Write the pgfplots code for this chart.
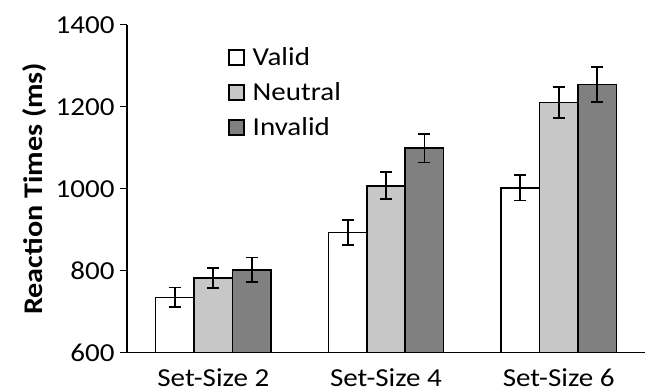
\documentclass[border=0pt]{standalone}
\usepackage{pgfplots}
\pgfplotsset{compat=1.18}
\usepackage{fontspec}
\setmainfont{Carlito}[FakeStretch=1.12]
\definecolor{lgray}{RGB}{198,199,198}
\definecolor{dgray}{RGB}{128,128,128}
\begin{document}
\begin{tikzpicture}
\path[use as bounding box] (0,0) rectangle (647bp,391bp);
\begin{axis}[
  at={(127bp,38.3bp)}, anchor=south west,
  scale only axis, width=518bp, height=328bp,
  xmin=0.5, xmax=3.5, ymin=600, ymax=1400,
  axis x line*=bottom, axis y line*=left,
  axis line style={line width=1.3bp, black},
  ybar=0pt, bar width=38.4bp,
  xtick={1,2,3}, xticklabels={Set-Size 2,Set-Size 4,Set-Size 6},
  major x tick style={draw=none},
  xticklabel style={yshift=-5bp},
  yticklabel style={xshift=-2bp},
  extra x ticks={0.5,1.5,2.5,3.5}, extra x tick labels={},
  extra x tick style={major tick length=9bp, tick align=outside, major tick style={line width=1.3bp, black, draw=black}},
  ytick={600,800,1000,1200,1400},
  y tick style={line width=1.3bp, black},
  tick align=outside, major tick length=7bp,
  ticklabel style={font=\fontsize{26}{30}\selectfont},
  /pgf/number format/assume math mode=true,
  /pgf/number format/set thousands separator={},
  ylabel={\bfseries Reaction Times (ms)},
  every axis y label/.style={at={(ticklabel cs:0.5)}, rotate=90, anchor=south, yshift=2bp, font=\fontsize{27}{30}\selectfont},
  legend cell align=left,
  legend style={draw=none, fill=none, at={(0.195,0.93)}, anchor=north west,
    font=\fontsize{26}{30}\selectfont, row sep=15.5bp, inner sep=0pt,
    nodes={inner sep=0pt}},
  legend image code/.code={\draw[#1, line width=1.5bp] (0bp,-7.5bp) rectangle (15bp,7.5bp); \path (23bp,0bp);},
  error bars/y dir=both, error bars/y explicit,
  error bars/error bar style={line width=1.8bp, black},
  error bars/error mark options={line width=1.8bp, black, mark size=6bp, rotate=90},
]
\addplot[fill=white, draw=black, line width=1.5bp] coordinates {(1,735) +- (0,24) (2,893) +- (0,30) (3,1002) +- (0,31)};
\addplot[fill=lgray, draw=black, line width=1.5bp] coordinates {(1,782) +- (0,25) (2,1007) +- (0,33) (3,1210) +- (0,38)};
\addplot[fill=dgray, draw=black, line width=1.5bp] coordinates {(1,802) +- (0,30) (2,1099) +- (0,35) (3,1254) +- (0,42)};
\legend{Valid,Neutral,Invalid}
\end{axis}
\end{tikzpicture}
\end{document}
